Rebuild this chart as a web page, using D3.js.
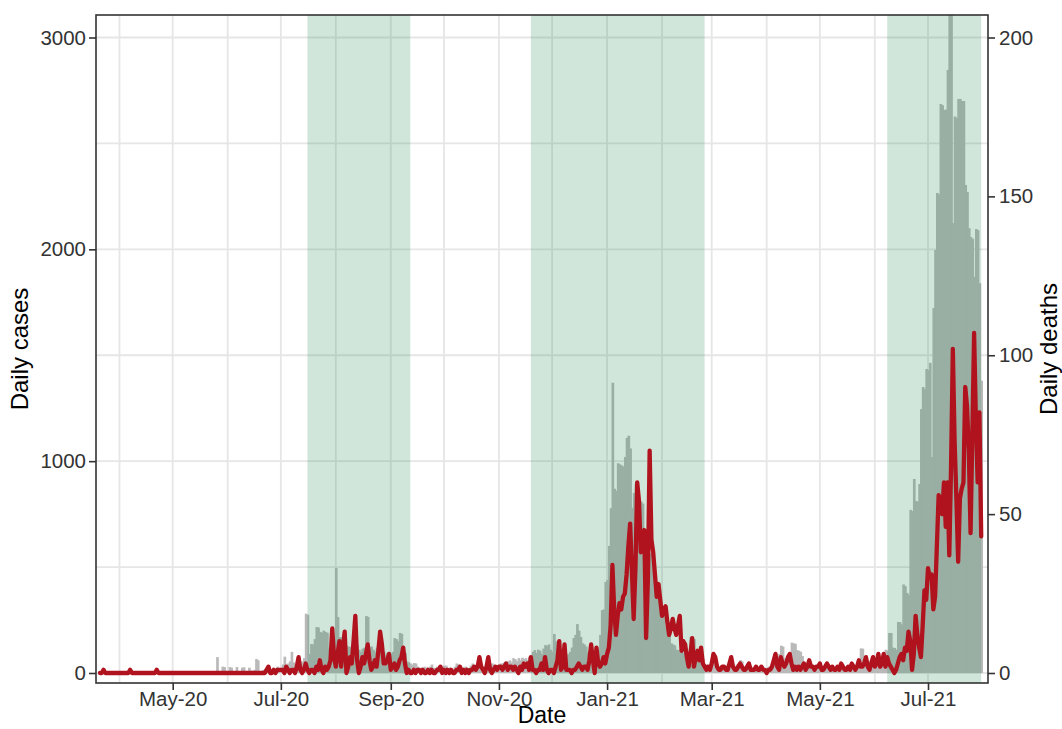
<!DOCTYPE html>
<html><head><meta charset="utf-8">
<script src="https://cdn.jsdelivr.net/npm/d3@7"></script>
<style>body{margin:0;background:#fff}</style>
</head><body>
<svg id="chart" width="1062" height="729"></svg>
<script>
// ---------- DATA (daily values, each segment starts at the given date) ----------
const segmentStarts = ["2020-03-21","2020-07-01","2020-09-18","2020-11-20","2021-02-26","2021-06-09"];

const casesA = [0,0,0,0,0,0,0,0,0,0, 0,0,0,0,0,0,0,0,0,0, 0,0,0,0,0,0,0,0,0,0,
  0,0,0,0,0,0,0,0,0,0, 0,0,0,0,0,0,0,0,0,0, 0,0,0,0,0,0,0,0,0,0, 0,0,0,0,0,0,
  75,10,0,30,28,5,0,28,25,5, 0,28,8,0,25,27,5,10,25,12, 0,15,66,60,10,5,15,20,10,25, 15,10,20,15,30,20];
const deathsA = [0,0,1,0,0,0,0,0,0,0, 0,0,0,0,0,0,0,1,0,0, 0,0,0,0,0,0,0,0,0,0,
  0,0,1,0,0,0,0,0,0,0, 0,0,0,0,0,0,0,0,0,0, 0,0,0,0,0,0,0,0,0,0, 0,0,0,0,0,0,0,0,0,0,
  0,0,0,0,0,0,0,0,0,0, 0,0,0,0,0,0,0,0,0,0, 0,0,0,0,1,2,0,0,1,0, 1,1];

const casesB = [25,40,77,30,45,55,100,50,40,50, 60,45,55,70,280,275,90,137,135,160,
  217,215,194,190,200,194,190,120,115,125, 150,496,264,170,168,165,130,128,125,123,
  120,100,125,130,110,100,115,120,269,265, 120,125,110,100,120,115,95,90,100,85,
  95,80,90,100,165,160,150,189,185,100, 95,55,50,45,40,47,45,30,25];
const deathsB = [1,1,0,2,1,0,1,1,0,2, 5,1,0,1,3,1,0,1,1,0, 2,1,4,1,0,2,1,2,4,14,
  5,2,6,10,2,8,13,0,2,5, 3,10,18,4,0,2,5,3,6,9, 4,1,2,4,2,7,13,9,3,3,
  4,6,1,2,3,1,2,4,5,8, 3,0,1,0,0,1,0,1,1];

const casesC = [20,25,30,20,25,30,40,25,20,30, 25,20,30,35,35,20,25,15,20,30,
  45,40,30,20,25,30,20,25,35,45, 30,25,20,30,35,25,30,40,35,30,
  45,40,35,30,40,45,45,50,40,55, 60,50,70,65,55,70,60,72,65,70, 60,75,80];
const deathsC = [0,1,0,0,1,0,1,0,0,1, 1,2,0,1,0,1,0,1,0,0, 1,1,2,0,1,0,1,0,1,1,
  2,1,2,5,2,1,0,2,5,1, 0,1,2,1,2,2,1,2,3,1, 2,2,1,2,1,0,2,1,3,2, 3,1,5];

const casesD = [100,108,95,110,105,90,115,132,128,135, 110,100,184,150,80,85,70,75,70,72,
  90,100,120,165,180,231,200,170,140,135, 125,100,70,60,65,62,60,110,180,297,
  300,430,439,600,778,1370,870,860,990,985, 980,975,1020,1110,1120,1060,780,850,890,880,
  690,810,800,640,650,600,565,560,480,410, 400,380,345,310,300,220,215,200,140,135,
  130,110,108,100,105,95,93,90,80,171, 165,160,77,70,75,60,65,40];
const deathsD = [1,1,0,1,1,3,1,5,1,0, 1,1,0,2,4,10,1,2,9,1, 1,1,0,1,1,2,3,2,1,2,
  2,1,4,9,4,0,8,3,2,3, 5,3,6,8,15,34,20,12,18,22, 20,24,25,31,40,47,32,17,33,60,
  54,38,40,45,11,29,70,42,38,31, 24,28,23,18,20,21,16,12,14,17,
  14,12,15,18,7,10,9,5,2,6, 11,2,5,7,4,8,3,2];

const casesE = [40,35,45,60,70,65,40,30,35,25, 30,20,25,30,35,25,30,40,35,61,
  55,30,25,20,25,30,20,15,25,20, 15,20,25,15,20,30,25,40,50,60,
  45,90,129,125,70,60,80,75,143,140, 138,108,105,100,80,50,40,35,30,40,
  25,30,20,25,30,20,25,35,30,20, 25,20,30,25,20,30,35,25,20,30,
  25,35,40,30,35,45,50,116,115,65, 65,60,40,45,50,45,60,55,70,60, 80,110,105];
const deathsE = [1,2,1,3,6,5,2,1,1,2, 2,1,1,3,5,2,1,1,2,3, 2,1,1,2,3,1,1,1,2,1,
  1,2,1,1,0,1,1,2,4,6, 2,1,5,3,2,3,5,6,3,1, 2,1,2,1,2,3,1,2,4,2,
  2,1,2,2,3,1,1,2,3,2, 1,2,1,1,2,1,3,2,1,1, 2,1,3,2,1,2,4,2,2,3,
  5,2,1,3,5,2,3,6,2,3, 6,2,5];

const casesF = [189,189,120,118,110,241,240,230,418,410, 378,370,770,765,916,812,810,892,1246,1350,
  1340,1435,1430,1464,1020,1723,1997,2266,2260,2686, 2680,2658,2660,2847,3150,3120,2124,2627,2620,2710,
  2710,2700,2700,2304,2271,2100,2058,2050,1870,2096, 2090,1840,1380];
const deathsF = [3,2,1,0,1,3,5,6,4,8, 7,13,10,1,6,18,12,8,5,15, 26,23,33,30,31,20,24,40,56,54,
  50,60,46,60,37,65,102,73,55,35, 55,58,60,90,84,70,44,75,107,80, 60,82,43];

const casesSegments = [casesA, casesB, casesC, casesD, casesE, casesF];
const deathsSegments = [deathsA, deathsB, deathsC, deathsD, deathsE, deathsF];

const shadeStarts = ["2020-07-16","2020-11-19","2021-06-08"];
const shadeEnds   = ["2020-09-12","2021-02-25","2021-07-31"];

const dateTicks = ["2020-05-01","2020-07-01","2020-09-01","2020-11-01","2021-01-01","2021-03-01","2021-05-01","2021-07-01"];
const dateMinorGrid = ["2020-04-01","2020-06-01","2020-08-01","2020-10-01","2020-12-01","2021-02-01","2021-04-01","2021-06-01"];
const caseTicks = [0, 1000, 2000, 3000];
const caseMinorGrid = [500, 1500, 2500];
const deathTicks = [0, 50, 100, 150, 200];

// ---------- LAYOUT ----------
const parse = d3.utcParse("%Y-%m-%d");
const P = {left: 96, right: 988, top: 15, bottom: 683};
const svg = d3.select("#chart");
const font = "'Liberation Sans', Arial, Helvetica, sans-serif";

const x = d3.scaleUtc().domain([parse("2020-03-21"), parse("2021-07-31")]).range([100, 981.2]);
const yC = d3.scaleLinear().domain([0, 3000]).range([673, 37.5]);
const yD = d3.scaleLinear().domain([0, 200]).range([673, 37.5]);

function build(segs) {
  const out = [];
  segs.forEach((vals, s) => {
    const st = parse(segmentStarts[s]);
    vals.forEach((v, i) => out.push({date: d3.utcDay.offset(st, i), v}));
  });
  return out;
}
const cases = build(casesSegments);
const deaths = build(deathsSegments);

svg.append("rect").attr("width", 1062).attr("height", 729).attr("fill", "#fff");
svg.append("defs").append("clipPath").attr("id", "clip")
  .append("rect").attr("x", P.left).attr("y", P.top).attr("width", P.right - P.left).attr("height", P.bottom - P.top);

const plot = svg.append("g").attr("clip-path", "url(#clip)");

// gridlines
const gridColor = "#e6e6e6";
plot.selectAll(".hg").data(caseTicks.concat(caseMinorGrid)).join("line")
  .attr("x1", P.left).attr("x2", P.right).attr("y1", d => yC(d)).attr("y2", d => yC(d))
  .attr("stroke", gridColor).attr("stroke-width", 1.8);
plot.selectAll(".vg").data(dateTicks.concat(dateMinorGrid)).join("line")
  .attr("x1", d => x(parse(d))).attr("x2", d => x(parse(d))).attr("y1", P.top).attr("y2", P.bottom)
  .attr("stroke", gridColor).attr("stroke-width", 1.8);

// bars
const dayW = x(parse("2020-03-22")) - x(parse("2020-03-21"));
const bw = dayW + 0.9;
plot.append("g").selectAll("rect").data(cases.filter(d => d.v > 0)).join("rect")
  .attr("x", d => x(d.date) - dayW / 2).attr("width", bw)
  .attr("y", d => yC(d.v)).attr("height", d => yC(0) - yC(d.v))
  .attr("fill", "#b9b9b9");

// shaded periods
plot.append("g").selectAll("rect").data(shadeStarts.map((s, i) => [parse(s), parse(shadeEnds[i])])).join("rect")
  .attr("x", d => x(d[0])).attr("width", d => x(d[1]) - x(d[0]))
  .attr("y", P.top).attr("height", P.bottom - P.top)
  .attr("fill", "#2e8b57").attr("fill-opacity", 0.22);

// deaths line
plot.append("path").datum(deaths)
  .attr("d", d3.line().x(d => x(d.date)).y(d => yD(d.v)))
  .attr("fill", "none").attr("stroke", "#b0131d").attr("stroke-width", 4.3)
  .attr("stroke-linejoin", "round").attr("stroke-linecap", "round");

// panel border
svg.append("rect").attr("x", P.left).attr("y", P.top).attr("width", P.right - P.left).attr("height", P.bottom - P.top)
  .attr("fill", "none").attr("stroke", "#333").attr("stroke-width", 1.6);

// axes
function styleAxis(g) {
  g.select(".domain").remove();
  g.selectAll(".tick line").attr("stroke", "#333").attr("stroke-width", 1.6);
  g.selectAll(".tick text").attr("fill", "#333").style("font-family", font).style("font-size", "20.5px");
}
svg.append("g").attr("transform", `translate(0,${P.bottom})`)
  .call(d3.axisBottom(x).tickValues(dateTicks.map(parse)).tickFormat(d3.utcFormat("%b-%y")).tickSize(7).tickPadding(1))
  .call(styleAxis);
svg.append("g").attr("transform", `translate(${P.left},0)`)
  .call(d3.axisLeft(yC).tickValues(caseTicks).tickFormat(d3.format("d")).tickSize(7).tickPadding(3))
  .call(styleAxis);
svg.append("g").attr("transform", `translate(${P.right},0)`)
  .call(d3.axisRight(yD).tickValues(deathTicks).tickFormat(d3.format("d")).tickSize(7).tickPadding(4))
  .call(styleAxis);

// titles
svg.append("text").attr("x", (P.left + P.right) / 2).attr("y", 723).attr("text-anchor", "middle")
  .style("font-family", font).style("font-size", "23px").attr("fill", "#000").text("Date");
svg.append("text").attr("transform", `translate(28,${(P.top + P.bottom) / 2}) rotate(-90)`).attr("text-anchor", "middle")
  .style("font-family", font).style("font-size", "24px").attr("fill", "#000").text("Daily cases");
svg.append("text").attr("transform", `translate(1057,${(P.top + P.bottom) / 2}) rotate(-90)`).attr("text-anchor", "middle")
  .style("font-family", font).style("font-size", "24px").attr("fill", "#000").text("Daily deaths");
</script>
</body></html>
